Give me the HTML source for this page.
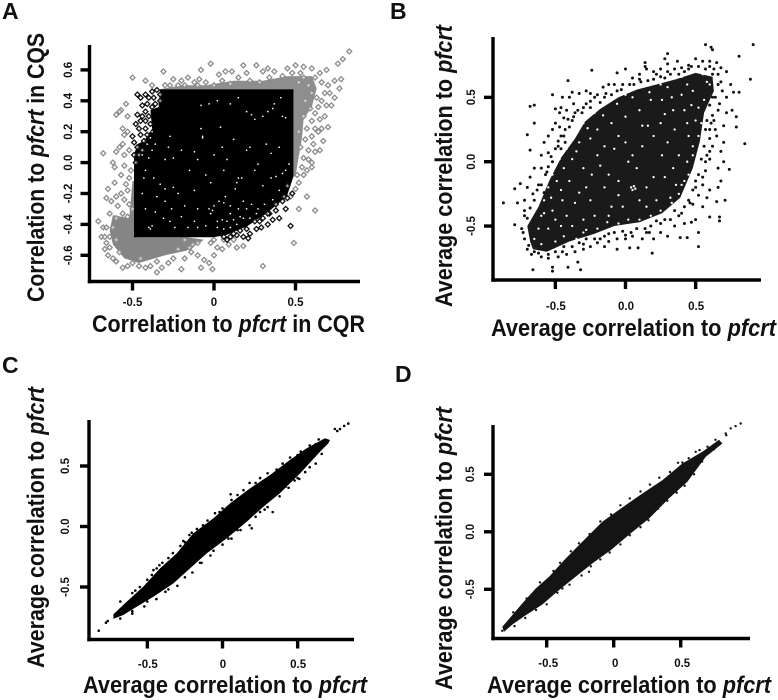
<!DOCTYPE html>
<html lang="en">
<head>
<meta charset="utf-8">
<title>Correlation to pfcrt scatter plots</title>
<style>
html,body{margin:0;padding:0;background:#fff;}
svg{display:block;}
text{font-family:"Liberation Sans",sans-serif;font-weight:bold;fill:#111;}
.title{font-size:24px;}
.tick{font-size:11.5px;}
.letter{font-size:23px;}
.marks{filter:blur(0.35px);}
</style>
</head>
<body>
<svg id="figure" xmlns="http://www.w3.org/2000/svg" width="778" height="700" viewBox="0 0 778 700">
  <rect x="0" y="0" width="778" height="700" fill="#fff"/>

  <text class="letter" x="2" y="19">A</text>
  <text class="letter" x="390" y="19">B</text>
  <text class="letter" x="2" y="373">C</text>
  <text class="letter" x="395" y="382">D</text>

  <text class="title" x="92" y="332" textLength="273" lengthAdjust="spacingAndGlyphs">Correlation to <tspan font-style="italic">pfcrt</tspan> in CQR</text>
  <text class="title" transform="translate(44,302) rotate(-90)" textLength="269" lengthAdjust="spacingAndGlyphs">Correlation to <tspan font-style="italic">pfcrt</tspan> in CQS</text>

  <text class="title" x="491" y="336" textLength="285" lengthAdjust="spacingAndGlyphs">Average correlation to <tspan font-style="italic">pfcrt</tspan></text>
  <text class="title" transform="translate(452,307) rotate(-90)" textLength="282" lengthAdjust="spacingAndGlyphs">Average correlation to <tspan font-style="italic">pfcrt</tspan></text>

  <text class="title" x="83" y="693" textLength="284" lengthAdjust="spacingAndGlyphs">Average correlation to <tspan font-style="italic">pfcrt</tspan></text>
  <text class="title" transform="translate(44,668) rotate(-90)" textLength="281" lengthAdjust="spacingAndGlyphs">Average correlation to <tspan font-style="italic">pfcrt</tspan></text>

  <text class="title" x="487" y="693" textLength="284" lengthAdjust="spacingAndGlyphs">Average correlation to <tspan font-style="italic">pfcrt</tspan></text>
  <text class="title" transform="translate(452,690) rotate(-90)" textLength="283" lengthAdjust="spacingAndGlyphs">Average correlation to <tspan font-style="italic">pfcrt</tspan></text>
</svg>

<script>
/* ---------- Panel A data ---------- */
const panelAXTicks = [-0.5, 0, 0.5];
const panelAXLabels = ['-0.5', '0', '0.5'];
const panelAYTicks = [-0.6, -0.4, -0.2, 0, 0.2, 0.4, 0.6];
const panelAYLabels = ['-0.6', '-0.4', '-0.2', '0.0', '0.2', '0.4', '0.6'];
const panelAGrayDenseLow = [[-.62,-.34],[-.52,-.36],[-.50,-.12],[-.47,-.12],[-.47,-.483],[-.168,-.483],[-.06,-.50],[-.17,-.57],[-.30,-.60],[-.46,-.65],[-.55,-.62],[-.62,-.53],[-.64,-.44]];
const panelAGrayDenseHigh = [[-.331,.475],[-.20,.50],[-.05,.50],[.12,.53],[.30,.53],[.45,.56],[.60,.56],[.63,.48],[.60,.36],[.55,.28],[.54,.16],[.52,.04],[.50,-.09],[.47,-.09],[.47,.475]];
const panelABlackDense = [[-.331,.475],[.487,.475],[.487,-.091],[.446,-.220],[.323,-.328],[.200,-.414],[.078,-.468],[-.004,-.483],[-.491,-.483],[-.491,.05],[-.47,.12],[-.43,.14],[-.38,.22],[-.39,.34],[-.34,.36]];
const panelAGrayPoints = [
[-.50,.55],[-.42,.53],[-.38,.50],[-.31,.59],[-.27,.50],[-.25,.54],[-.2,.53],[-.16,.55],[-.12,.52],[-.08,.60],[-.09,.54],[-.02,.64],[.03,.57],[.07,.59],[.11,.59],[.18,.63],[.2,.58],[.26,.63],[.3,.59],[.33,.61],[.37,.59],[.45,.61],[.5,.63],[.55,.62],[.6,.61],[.65,.58],[.69,.60],[.74,.53],[.78,.54],[.77,.48],[.83,.72],[.79,.67],[.76,.64],[.71,.45],[.74,.42],[.72,.37],
[.66,.40],[.62,.32],[.68,.30],[.70,.23],[.64,.20],[.67,.14],[.61,.12],[.65,.08],[.58,.02],[.60,-.03],[.55,-.08],[.52,-.13],[.50,-.17],[.57,-.22],[.52,-.30],[.62,-.31],[.49,-.52],[.30,-.67],[.47,-.22],
[-.54,.38],[-.57,.34],[-.60,.31],[-.58,.33],[-.53,.30],[-.56,.22],[-.55,.18],[-.53,.2],[-.56,.12],[-.58,.1],[-.52,.08],[-.55,.05],[-.6,.07],[-.68,.06],[-.62,0],[-.61,-.03],[-.55,-.02],[-.57,-.08],[-.52,-.1],[-.61,-.13],[-.54,-.14],[-.65,-.17],[-.57,-.2],[-.66,-.23],[-.53,-.18],[-.6,-.22],[-.55,-.24],[-.63,-.25],[-.59,-.28],[-.52,-.27],[-.5,-.3],
[-.71,-.38],[-.68,-.42],[-.66,-.42],[-.69,-.48],[-.67,-.48],[-.66,-.52],[-.67,-.56],[-.64,-.55],[-.65,-.6],[-.62,-.62],[-.6,-.64],[-.56,-.68],[-.53,-.67],[-.5,-.65],[-.46,-.67],[-.42,-.68],[-.39,-.67],[-.35,-.71],[-.32,-.68],[-.28,-.65],[-.2,-.69],[-.18,-.62],[-.08,-.68],[-.01,-.69],[-.03,-.65],[-.06,-.63],[-.1,-.6],[-.14,-.58],[.0,-.6],[.02,-.55],[.05,-.56],[.09,-.53],[.14,-.55],[.18,-.54],[.12,-.5],[-.02,-.52],[-.13,-.53],
[.52,.52],[.55,.55],[.58,.5],[.62,.55],[.66,.52],[.7,.5],[.6,.45],[.63,.42],[.68,.45],[.56,.4],[.59,.35],[.64,.36],[.69,.37],[.55,.3],[.6,.27],[.65,.28],[.57,.22],[.62,.22],[.56,.15],[.6,.17],[.66,.22],[.58,.08],[.62,.07],[.55,.03],[.6,.0],[.54,-.03],[.57,-.05],[.53,.1],[.52,.2],[.51,-.08],
[-.3,.5],[-.22,.5],[-.18,.5],[-.1,.5],[-.05,.52],[.0,.5],[.05,.53],[.1,.51],[.15,.55],[.22,.53],[.28,.52],[.34,.55],[.42,.56],[.48,.58],[.53,.58],
[-.51,-.05],[-.53,-.35],[-.56,-.33],[-.6,-.36],[-.64,-.33],[-.62,-.42],[-.6,-.5],[-.64,-.48],[-.58,-.58],[-.45,-.62],[-.35,-.64],[-.25,-.62],[-.15,-.55],[-.22,-.56],[.0,-.5],[.06,-.5],[-.1,-.52],[-.18,-.5]
];
const panelABlackPoints = [
[-.47,.44],[-.45,.42],[-.42,.44],[-.4,.42],[-.38,.46],[-.35,.47],[-.33,.44],[-.44,.37],[-.41,.38],[-.47,.31],[-.44,.3],[-.42,.33],[-.5,.17],[-.48,.25],[-.46,.22],[-.49,.05],[-.47,.1],[-.43,.14],
[.47,-.41],[.44,-.30],[.40,-.36],[.36,-.37],[.33,-.40],[.29,-.42],[.26,-.43],[.22,-.46],[.21,-.49],[.18,-.48],[.14,-.47],[.1,-.48],[.08,-.5],[.38,-.31],[.34,-.33],[.3,-.36],[.25,-.38],[.48,-.2],[.45,-.23],[.42,-.25],
[-.48,.0],[-.46,.05],[-.44,.08],[-.49,.13],[-.45,.18],[-.42,.22],[-.45,.27],[-.42,.27],[-.4,.3],[-.38,.36],[-.37,.42],[-.36,.38],[-.33,.4],[-.41,.18],[-.39,.25],
[.45,-.15],[.43,-.22],[.38,-.27],[.33,-.33],[.28,-.38],[.2,-.43],[.16,-.44],[.12,-.46],[.06,-.48]
];
const panelAGaps = [
[-.07,.16],[-.07,.17],[-.08,.22],[.04,.23],[.05,.1],[.08,.02],[.12,.15],[-.2,.08],[-.27,.17],[-.28,.1],[-.3,.02],[-.25,.03],[-.38,.08],[-.4,.03],[-.42,-.05],[-.37,-.1],[-.33,-.14],[-.3,-.17],[-.25,-.16],[-.22,-.2],[-.35,-.22],[-.3,-.25],[-.26,-.3],[-.2,-.35],[-.16,-.42],[-.38,-.41],[-.39,-.43],[-.4,-.42],[-.27,-.38],[-.1,-.3],[-.03,-.3],[-.02,-.33],[-.01,-.31],[.0,-.28],[.03,-.25],[.06,-.26],[.1,-.28],[.15,-.3],[.18,-.25],[.2,-.3],[.23,-.27],[.27,-.3],[.05,-.37],[.08,-.38],[.12,-.37],[.14,-.4],[.02,-.42],[-.05,-.41],[-.1,-.42],[.15,-.1],[.14,-.13],[.17,-.1],[.13,-.17],[.07,-.22],[.25,-.05],[.27,-.01],[.35,-.1],[.38,-.09],[.42,-.07],[.44,-.05],[.46,-.01],[.2,.33],[.23,.31],[.25,.28],[.3,.3],[.33,.33],[.36,.35],[.42,.3],[.44,.29],[.37,.38],[.41,.42],[.15,.42],[.1,.38],[.02,.4],[-.03,.38],[-.08,.37],[.32,.12],[.35,.06],[.4,.1],[.3,-.15],[.22,.1],[.2,.08],[-.1,.02],[-.05,-.08],[-.02,-.13],[-.15,-.05],[-.12,.07],[.0,.05],[.06,-.05],[-.18,-.28],[-.12,-.18],
[-.44,.05],[-.41,.12],[-.39,.16],[-.38,.2],[-.36,.12],[-.43,-.1],[-.44,-.2],[-.36,-.32],[-.42,-.3],[-.31,-.36],[-.24,-.42],[-.12,-.38],[.02,-.38],[.06,-.43],[.1,-.42],[.18,-.36],[.22,-.36],[.26,-.33],[.31,-.27],[.36,-.24],[.4,-.18],[.1,-.33],[.16,-.35]
];

/* ---------- Panel B data ---------- */
const panelBXTicks = [-0.5, 0, 0.5];
const panelBXLabels = ['-0.5', '0.0', '0.5'];
const panelBYTicks = [-0.5, 0, 0.5];
const panelBYLabels = ['-0.5', '0.0', '0.5'];
const panelBDense = [[-.68,-.62],[-.70,-.50],[-.62,-.35],[-.54,-.14],[-.46,.03],[-.36,.18],[-.29,.31],[-.18,.41],[-.05,.50],[.08,.56],[.22,.60],[.36,.64],[.50,.69],[.62,.66],[.63,.55],[.56,.38],[.53,.16],[.48,-.05],[.39,-.28],[.26,-.40],[.10,-.47],[-.08,-.50],[-.22,-.56],[-.40,-.62],[-.56,-.70],[-.66,-.68]];
const panelBPoints = [
[-.87,-.32],[-.66,-.84],[-.52,-.82],[-.52,-.85],[-.41,-.82],[-.32,-.84],[-.34,-.78],[.57,.91],[.61,.89],[.62,.87],[.91,.91],[.81,.82],[.89,.64],[.85,.14],[.79,.35],[.79,.27],[.81,.54],[.77,.54],[.74,-.06],[.52,-.66],[.52,-.55],[.19,-.71],[-.06,-.68],[.03,-.67],[.09,-.67],[.39,-.59],[.44,-.59],[-.24,.71],[-.41,.63],[-.65,.44],[-.68,.43],[-.65,.30],[-.70,.21],[-.68,.09],[-.79,-.21],[-.75,-.17],[-.77,-.32],[-.79,-.49],[0,.72],[-.06,.69],[.14,.77],[.30,.84],[.28,.80],[.37,.78],[.67,-.43],[.67,-.46],[.71,-.30],[.65,-.31],[.60,-.43],
[-.55,.07],[-.6,.05],[-.58,.15],[-.55,.2],[-.5,.3],[-.52,.25],[-.47,.38],[-.46,.42],[-.5,.41],[-.52,.52],[-.45,.5],[-.4,.5],[-.38,.54],[-.33,.53],[-.28,.55],[-.25,.53],[-.2,.52],[-.16,.58],[-.12,.6],[-.08,.6],[-.44,.34],[-.42,.4],[-.38,.32],[-.37,.45],[-.47,.27],[-.44,.2],[-.43,.15],[-.6,-.05],[-.65,-.05],[-.68,-.12],[-.7,-.2],[-.66,-.25],[-.72,-.3],[-.72,-.38],[-.7,-.44],[-.74,-.52],[-.72,-.6],[-.69,-.65],[-.65,-.7],[-.6,-.74],[-.55,-.72],[-.48,-.74],[-.42,-.72],[-.36,-.7],[-.3,-.68],[-.25,-.66],[-.2,-.63],[-.15,-.66],[-.12,-.62],[-.06,-.6],[0,-.6],[.05,-.58],[.12,-.6],[.17,-.55],[.2,-.6],[.25,-.55],[.3,-.58],[.35,-.5],[.42,-.48],[.47,-.47],[.5,-.45],[.55,-.35],[.58,-.28],[.6,-.22],[.66,-.2],[.68,-.15],[.66,-.05],[.7,0],[.68,.08],[.7,.15],[.65,.2],[.7,.28],[.72,.38],[.76,.4],[.67,.45],[.72,.5],[.75,.6],[.72,.7],[.68,.73],[.65,.77],[.6,.78],[.5,.8],[.45,.75],[.4,.73],[.35,.72],[.25,.72],[.2,.7],[.15,.72],[.1,.68],[.05,.65],[.14,.74],[.22,.68],[.3,.76],[.55,.78],[.63,.72],
[-.48,.12],[-.52,.0],[-.56,-.08],[-.62,-.18],[-.46,.2],[-.36,.38],[-.3,.42],[-.25,.47],[-.15,.5],[-.02,.6],[.1,.64],[.3,.7],[.45,.72],[.62,.68],[.68,.62],[.62,.5],[.63,.32],[.6,.25],[.6,.08],[.57,0],[.55,-.12],[.5,-.2],[.46,-.32],[.38,-.42],[.25,-.48],[.15,-.55],[.0,-.57],[-.15,-.58],[-.3,-.64],[-.45,-.7],
[-.72,-.42],[-.68,-.36],[-.65,-.3],[-.63,-.22],[-.6,-.18],[-.58,-.24],[-.57,-.1],[-.55,-.04],[-.53,.04],[-.5,.1],[-.48,.16],[-.46,.1],[-.43,.25],[-.4,.27],[-.41,.33],[-.37,.35],[-.34,.4],[-.31,.38],[-.28,.45],[-.25,.42],[-.22,.5],[-.18,.46],[-.14,.53],[-.1,.52],[-.06,.55],[-.03,.56],[.03,.6],[.06,.6],[.11,.62],[.16,.63],[.2,.64],[.25,.66],[.28,.65],[.32,.68],[.38,.68],[.42,.7],[.47,.74],[.52,.74],[.57,.72],[.6,.74],
[.66,.68],[.66,.6],[.69,.55],[.64,.5],[.66,.4],[.6,.44],[.62,.36],[.58,.32],[.61,.3],[.64,.25],[.57,.25],[.6,.18],[.56,.12],[.62,.12],[.58,.05],[.6,.02],[.54,.02],[.57,-.07],[.52,-.1],[.55,-.18],[.5,-.15],[.48,-.22],[.52,-.26],[.45,-.3],[.48,-.33],[.42,-.35],[.4,-.4],[.35,-.38],[.32,-.45],[.28,-.45],[.22,-.46],[.18,-.5],[.14,-.52],[.08,-.52],[.04,-.55],[-.02,-.54],[-.08,-.55],[-.12,-.56],[-.18,-.6],[-.22,-.6],[-.28,-.6],[-.33,-.63],[-.38,-.66],[-.44,-.66],[-.5,-.7],[-.55,-.75],[-.62,-.71],[-.67,-.72],[-.7,-.68],[-.73,-.55]
];
const panelBGaps = [
[-.65,-.6],[-.6,-.42],[-.58,-.3],[-.55,-.2],[-.52,-.1],[-.47,.02],[-.42,.1],[-.37,.25],[-.3,.3],[-.22,.38],[-.12,.5],[0,.52],[.1,.58],[.25,.6],[.4,.66],[.55,.68],[.6,.6],[.56,.48],[.54,.3],[.52,.2],[.48,.05],[.45,-.1],[.38,-.25],[.25,-.38],[.1,-.45],[-.05,-.48],[-.2,-.52],[-.35,-.6],[-.5,-.62],
[.04,-.2],[.06,-.19],[.07,-.21],[.05,-.22],[-.1,-.35],[-.25,-.3],[-.3,-.45],[-.45,-.3],[-.4,-.15],[-.3,-.05],[-.2,.05],[-.12,-.1],[-.05,-.15],[.05,.05],[.02,.0],[.08,-.05],[.12,.12],[.2,.2],[.25,.3],[.28,.37],[.3,.15],[.35,.25],[.42,.4],[.45,.2],[.38,.05],[.28,-.12],[.15,-.2],[.22,-.3],[-.02,-.35],[-.15,-.2],[-.28,-.2],[-.38,-.5],[-.5,-.45],[-.55,-.52],[-.42,-.42],[-.2,.25],[-.1,.3],[0,.35],[.1,.4],[.18,.48],[-.05,.2],[-.15,.12],[.33,.5],[.48,.55],[.15,-.35],[.32,-.28],[.42,-.15],[-.35,.08],[-.25,.18],
[-.62,-.52],[-.58,-.4],[-.53,-.28],[-.49,-.15],[-.44,-.05],[-.38,.02],[-.33,.15],[-.27,.26],[-.16,.36],[-.06,.45],[.05,.5],[.17,.54],[.3,.58],[.44,.6],[.58,.62],[.52,.42],[.5,.32],[.48,.12],[.44,0],[.4,-.18],[.33,-.32],[.18,-.42],[.02,-.45],[-.13,-.47],[-.28,-.53],[-.44,-.58],[-.6,-.64],
[-.52,-.38],[-.46,-.22],[-.36,-.32],[-.33,-.24],[-.24,-.1],[-.18,-.03],[-.08,.1],[0,.15],[.16,.28],[.34,.4],[.4,.52],[.26,.48],[.12,.28],[.26,.05],[.34,-.05],[.36,-.18],[.2,-.12],[.1,-.3],[-.12,-.42],[-.22,-.42],[-.05,-.26],[.44,.3],[.47,.44],[-.3,-.55],[-.46,-.5]
];

/* ---------- Panel C data ---------- */
const panelCXTicks = [-0.5, 0, 0.5];
const panelCXLabels = ['-0.5', '0', '0.5'];
const panelCYTicks = [-0.5, 0, 0.5];
const panelCYLabels = ['-0.5', '0.0', '0.5'];
const panelCDense = [[-.726,-.726],[-.637,-.621],[-.527,-.497],[-.416,-.346],[-.305,-.222],[-.194,-.056],[-.061,.067],[.050,.191],[.183,.315],[.316,.426],[.449,.550],[.560,.646],[.682,.729],[.715,.715],[.704,.687],[.649,.618],[.516,.439],[.382,.274],[.272,.164],[.161,.040],[.028,-.098],[-.105,-.222],[-.216,-.346],[-.327,-.470],[-.460,-.580],[-.571,-.663],[-.660,-.731],[-.726,-.764]];
const panelCPoints = [
[.837,.850],[.810,.831],[.782,.806],[.764,.789],[.748,.806],[-.824,-.861],[-.775,-.795],[-.764,-.781],[.054,.266],[.334,.120],[.194,-.015],[.511,.393],[-.205,-.051],[-.261,-.120],[-.438,-.346],[-.460,-.360],
[.62,.52],[.55,.45],[.48,.38],[.42,.33],[.35,.27],[.28,.14],[.22,.08],[.1,-.03],[.04,-.1],[-.06,-.2],[-.15,-.3],[-.25,-.42],[-.38,-.54],[-.5,-.62],[-.6,-.7],
[-.68,-.62],[-.58,-.53],[-.47,-.4],[-.36,-.26],[-.25,-.13],[-.13,.01],[-.02,.12],[.1,.26],[.22,.36],[.36,.47],[.5,.59],[.62,.68],
[-.6,-.55],[-.55,-.5],[-.5,-.44],[-.42,-.32],[-.4,-.3],[-.33,-.22],[-.28,-.16],[-.22,-.07],[-.17,-.02],[-.1,.05],[-.05,.11],[0,.15],[.06,.22],[.14,.3],[.18,.36],[.25,.4],[.3,.44],[.4,.52],[.45,.57],[.52,.62],[.58,.67],[.64,.72],
[.66,.6],[.58,.49],[.5,.4],[.44,.32],[.38,.25],[.3,.16],[.25,.12],[.18,.01],[.12,-.03],[.06,-.1],[0,-.15],[-.08,-.24],[-.14,-.3],[-.2,-.38],[-.3,-.49],[-.36,-.52],[-.44,-.6],[-.52,-.66],[-.6,-.72],[-.68,-.76]
];

/* ---------- Panel D data ---------- */
const panelDXTicks = [-0.5, 0, 0.5];
const panelDXLabels = ['-0.5', '0', '0.5'];
const panelDYTicks = [-0.5, 0, 0.5];
const panelDYLabels = ['-0.5', '0.0', '0.5'];
const panelDDense = [[-.831,-.826],[-.682,-.623],[-.582,-.493],[-.483,-.391],[-.358,-.232],[-.234,-.087],[-.085,.087],[.065,.212],[.214,.333],[.363,.449],[.512,.594],[.662,.696],[.786,.800],[.811,.768],[.687,.652],[.550,.435],[.413,.290],[.264,.116],[.127,-.014],[-.022,-.159],[-.159,-.275],[-.284,-.391],[-.408,-.507],[-.532,-.632],[-.657,-.725],[-.756,-.806],[-.818,-.870]];
const panelDPoints = [
[.948,.942],[.910,.919],[.873,.899],[.836,.855],[-.818,-.841],[-.831,-.861],[.612,.696],[.512,.603],[-.184,-.348],[-.383,-.493],
[-.75,-.7],[-.65,-.58],[-.55,-.44],[-.45,-.34],[-.4,-.27],[-.32,-.17],[-.26,-.1],[-.18,-.02],[-.1,.09],[-.02,.15],[.05,.23],[.12,.29],[.2,.35],[.27,.41],[.34,.47],[.42,.52],[.48,.6],[.56,.64],[.64,.71],[.7,.74],[.76,.8],[.84,.84],
[.75,.72],[.66,.61],[.6,.5],[.53,.4],[.47,.34],[.4,.27],[.33,.2],[.26,.1],[.2,.04],[.12,-.03],[.05,-.11],[-.03,-.18],[-.1,-.24],[-.17,-.3],[-.24,-.38],[-.33,-.46],[-.42,-.53],[-.5,-.63],[-.58,-.68],[-.66,-.75],[-.74,-.82]
];

/* ---------- Drawing ---------- */
const svgNS = 'http://www.w3.org/2000/svg';
const figure = document.getElementById('figure');

function make(tag, parent, attrs) {
  const el = document.createElementNS(svgNS, tag);
  Object.keys(attrs).forEach(function (k) { el.setAttribute(k, attrs[k]); });
  parent.appendChild(el);
  return el;
}
function xScale(p, v) { return p.x0 + v * p.xUnit; }
function yScale(p, v) { return p.y0 - v * p.yUnit; }

function drawRegion(p, parent, pts, fill, name) {
  const d = pts.map(function (q) { return xScale(p, q[0]).toFixed(1) + ',' + yScale(p, q[1]).toFixed(1); }).join(' ');
  const el = make('polygon', parent, { points: d, fill: fill });
  
  
}
function drawDots(p, parent, pts, r, fill, name) {
  pts.forEach(function (q) {
    const el = make('circle', parent, { cx: xScale(p, q[0]).toFixed(1), cy: yScale(p, q[1]).toFixed(1), r: r, fill: fill });
    
    
  });
}
function drawDiamonds(p, parent, pts, stroke, name) {
  pts.forEach(function (q) {
    const cx = xScale(p, q[0]), cy = yScale(p, q[1]), s = 2.5;
    const d = [[cx, cy - s], [cx + s, cy], [cx, cy + s], [cx - s, cy]].map(function (c) { return c[0].toFixed(1) + ',' + c[1].toFixed(1); }).join(' ');
    const el = make('polygon', parent, { points: d, fill: '#fff', 'fill-opacity': 0.6, stroke: stroke, 'stroke-width': 1.3 });
    
    
  });
}
function drawAxes(p, xTicks, xLabels, yTicks, yLabels) {
  const g = make('g', figure, {});
  
  
  const yLine = make('line', g, { x1: p.axisX, x2: p.axisX, y1: p.axisTop, y2: p.axisY + 1.7, stroke: '#000', 'stroke-width': 3.4 });
  
  
  const xLine = make('line', g, { x1: p.axisX - 1.7, x2: p.axisRight, y1: p.axisY, y2: p.axisY, stroke: '#000', 'stroke-width': 3.4 });
  
  
  xTicks.forEach(function (v, i) {
    const x = xScale(p, v);
    const t = make('line', g, { x1: x, x2: x, y1: p.axisY, y2: p.axisY + 9, stroke: '#000', 'stroke-width': 3.4 });
    
    
    const l = make('text', g, { x: x + p.xLabelShift, y: p.xLabelY, 'text-anchor': 'middle', 'class': 'tick' });
    
    
    l.textContent = xLabels[i];
  });
  yTicks.forEach(function (v, i) {
    const y = yScale(p, v);
    const t = make('line', g, { x1: p.axisX - 9, x2: p.axisX, y1: y, y2: y, stroke: '#000', 'stroke-width': 3.4 });
    
    
    const l = make('text', g, { transform: 'translate(' + p.yLabelX + ',' + y.toFixed(1) + ') rotate(-90)', 'text-anchor': 'middle', 'class': 'tick' });
    
    
    l.textContent = yLabels[i];
  });
}
function markGroup(p) {
  const g = make('g', figure, { 'class': 'marks' });
  
  
  return g;
}

const frameA = { id: 'panel-a', x0: 214, xUnit: 163, y0: 162.6, yUnit: 154.5, axisX: 89.5, axisTop: 45, axisY: 281.5, axisRight: 360, xLabelShift: 0, xLabelY: 306, yLabelX: 72 };
const frameB = { id: 'panel-b', x0: 625.5, xUnit: 140.3, y0: 161.7, yUnit: 128.7, axisX: 493, axisTop: 37, axisY: 280, axisRight: 761, xLabelShift: 0.5, xLabelY: 310, yLabelX: 475 };
const frameC = { id: 'panel-c', x0: 222.5, xUnit: 150.3, y0: 526.5, yUnit: 121, axisX: 89, axisTop: 420, axisY: 639.5, axisRight: 354, xLabelShift: 0.5, xLabelY: 668, yLabelX: 69 };
const frameD = { id: 'panel-d', x0: 613.7, xUnit: 134, y0: 531.8, yUnit: 115, axisX: 493, axisTop: 425, axisY: 638.5, axisRight: 750, xLabelShift: 1.5, xLabelY: 667, yLabelX: 474 };

const marksA = markGroup(frameA);
drawRegion(frameA, marksA, panelAGrayDenseLow, '#858585', 'panel-a-cqs-dense-low');
drawRegion(frameA, marksA, panelAGrayDenseHigh, '#8e8e8e', 'panel-a-cqs-dense-high');
drawDiamonds(frameA, marksA, panelAGrayPoints, '#8c8c8c', 'panel-a-gray-point');
drawRegion(frameA, marksA, panelABlackDense, '#000', 'panel-a-cqr-dense');
drawDiamonds(frameA, marksA, panelABlackPoints, '#111', 'panel-a-black-point');
drawDots(frameA, marksA, panelAGaps, 0.85, '#fff', 'panel-a-gap');
drawAxes(frameA, panelAXTicks, panelAXLabels, panelAYTicks, panelAYLabels);

const marksB = markGroup(frameB);
drawRegion(frameB, marksB, panelBDense, '#1a1a1a', 'panel-b-dense');
drawDots(frameB, marksB, panelBPoints, 1.5, '#111', 'panel-b-point');
drawDots(frameB, marksB, panelBGaps, 1.15, '#fff', 'panel-b-gap');
drawAxes(frameB, panelBXTicks, panelBXLabels, panelBYTicks, panelBYLabels);

const marksC = markGroup(frameC);
drawRegion(frameC, marksC, panelCDense, '#000', 'panel-c-dense');
drawDots(frameC, marksC, panelCPoints, 1.3, '#000', 'panel-c-point');
drawAxes(frameC, panelCXTicks, panelCXLabels, panelCYTicks, panelCYLabels);

const marksD = markGroup(frameD);
drawRegion(frameD, marksD, panelDDense, '#141414', 'panel-d-dense');
drawDots(frameD, marksD, panelDPoints, 1.2, '#141414', 'panel-d-point');
drawAxes(frameD, panelDXTicks, panelDXLabels, panelDYTicks, panelDYLabels);
</script>
</body>
</html>
